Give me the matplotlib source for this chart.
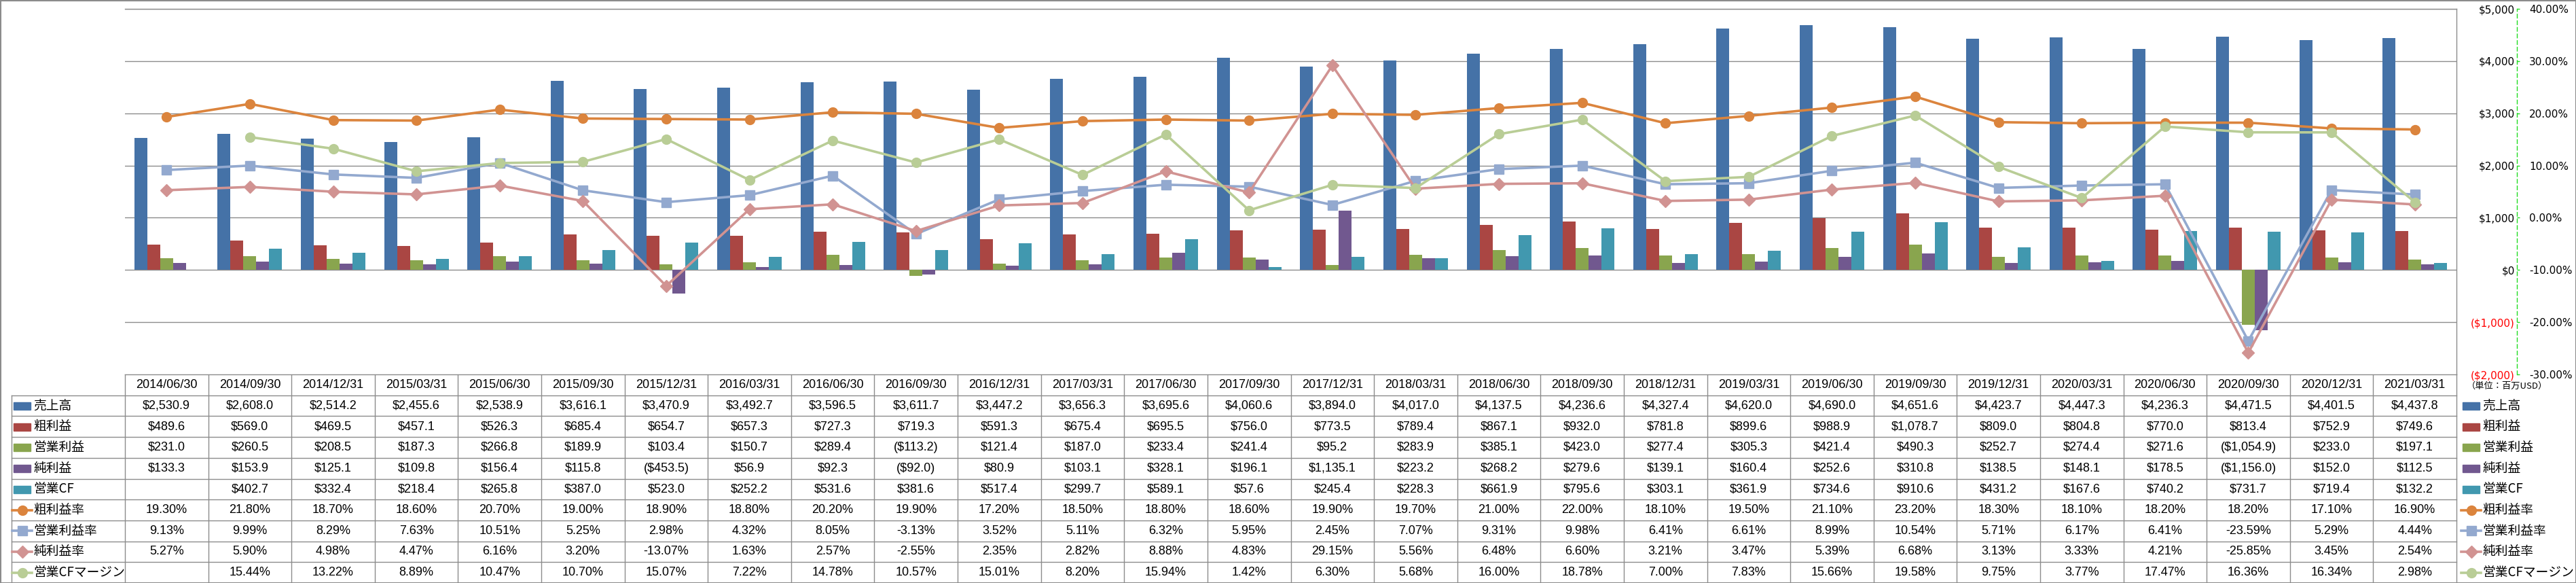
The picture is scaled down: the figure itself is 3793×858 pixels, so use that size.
import numpy as np
import matplotlib
matplotlib.use("Agg")
import matplotlib.pyplot as plt

# ---- data (百万USD / %) ----
dates = ["2014/06/30", "2014/09/30", "2014/12/31", "2015/03/31", "2015/06/30", "2015/09/30",
         "2015/12/31", "2016/03/31", "2016/06/30", "2016/09/30", "2016/12/31", "2017/03/31",
         "2017/06/30", "2017/09/30", "2017/12/31", "2018/03/31", "2018/06/30", "2018/09/30",
         "2018/12/31", "2019/03/31", "2019/06/30", "2019/09/30", "2019/12/31", "2020/03/31",
         "2020/06/30", "2020/09/30", "2020/12/31", "2021/03/31"]

revenue = [2530.9, 2608.0, 2514.2, 2455.6, 2538.9, 3616.1, 3470.9, 3492.7, 3596.5, 3611.7,
           3447.2, 3656.3, 3695.6, 4060.6, 3894.0, 4017.0, 4137.5, 4236.6, 4327.4, 4620.0,
           4690.0, 4651.6, 4423.7, 4447.3, 4236.3, 4471.5, 4401.5, 4437.8]
gross_profit = [489.6, 569.0, 469.5, 457.1, 526.3, 685.4, 654.7, 657.3, 727.3, 719.3,
                591.3, 675.4, 695.5, 756.0, 773.5, 789.4, 867.1, 932.0, 781.8, 899.6,
                988.9, 1078.7, 809.0, 804.8, 770.0, 813.4, 752.9, 749.6]
op_income = [231.0, 260.5, 208.5, 187.3, 266.8, 189.9, 103.4, 150.7, 289.4, -113.2,
             121.4, 187.0, 233.4, 241.4, 95.2, 283.9, 385.1, 423.0, 277.4, 305.3,
             421.4, 490.3, 252.7, 274.4, 271.6, -1054.9, 233.0, 197.1]
net_income = [133.3, 153.9, 125.1, 109.8, 156.4, 115.8, -453.5, 56.9, 92.3, -92.0,
              80.9, 103.1, 328.1, 196.1, 1135.1, 223.2, 268.2, 279.6, 139.1, 160.4,
              252.6, 310.8, 138.5, 148.1, 178.5, -1156.0, 152.0, 112.5]
op_cf = [None, 402.7, 332.4, 218.4, 265.8, 387.0, 523.0, 252.2, 531.6, 381.6,
         517.4, 299.7, 589.1, 57.6, 245.4, 228.3, 661.9, 795.6, 303.1, 361.9,
         734.6, 910.6, 431.2, 167.6, 740.2, 731.7, 719.4, 132.2]

gross_margin = [19.30, 21.80, 18.70, 18.60, 20.70, 19.00, 18.90, 18.80, 20.20, 19.90,
                17.20, 18.50, 18.80, 18.60, 19.90, 19.70, 21.00, 22.00, 18.10, 19.50,
                21.10, 23.20, 18.30, 18.10, 18.20, 18.20, 17.10, 16.90]
op_margin = [9.13, 9.99, 8.29, 7.63, 10.51, 5.25, 2.98, 4.32, 8.05, -3.13,
             3.52, 5.11, 6.32, 5.95, 2.45, 7.07, 9.31, 9.98, 6.41, 6.61,
             8.99, 10.54, 5.71, 6.17, 6.41, -23.59, 5.29, 4.44]
net_margin = [5.27, 5.90, 4.98, 4.47, 6.16, 3.20, -13.07, 1.63, 2.57, -2.55,
              2.35, 2.82, 8.88, 4.83, 29.15, 5.56, 6.48, 6.60, 3.21, 3.47,
              5.39, 6.68, 3.13, 3.33, 4.21, -25.85, 3.45, 2.54]
cf_margin = [None, 15.44, 13.22, 8.89, 10.47, 10.70, 15.07, 7.22, 14.78, 10.57,
             15.01, 8.20, 15.94, 1.42, 6.30, 5.68, 16.00, 18.78, 7.00, 7.83,
             15.66, 19.58, 9.75, 3.77, 17.47, 16.36, 16.34, 2.98]

usd_ticks = [-2000, -1000, 0, 1000, 2000, 3000, 4000, 5000]
pct_ticks = [-30, -20, -10, 0, 10, 20, 30, 40]
unit_label = "（単位：百万USD）"

bar_series = [("売上高", revenue, "#4572A7"),
              ("粗利益", gross_profit, "#AA4643"),
              ("営業利益", op_income, "#89A54E"),
              ("純利益", net_income, "#71588F"),
              ("営業CF", op_cf, "#4198AF")]
line_series = [("粗利益率", gross_margin, "#DB843D", "o", 10),
               ("営業利益率", op_margin, "#93A9CF", "s", 9.5),
               ("純利益率", net_margin, "#D19392", "D", 9),
               ("営業CFマージン", cf_margin, "#B9CD96", "o", 10)]

# ---- layout in pixels ----
W, H = 3793, 858
PL, PR, PT, PB = 184, 3617, 13, 551
LEG_L = 17
ROW_H = (H - PB) / 10.0
COL_W = (PR - PL) / len(dates)
GRID = "#8C8C8C"
GREEN_AXIS = "#22DD22"
TABLE_FONT = ["Liberation Sans", "DejaVu Sans"]
JP_FONT = ["Noto Sans CJK JP", "DejaVu Sans"]


def fmt_usd(v):
    if v is None:
        return ""
    return f"${v:,.1f}" if v >= 0 else f"(${-v:,.1f})"


def fmt_pct(v):
    if v is None:
        return ""
    return f"{v:.2f}%"


def arr(vals):
    return np.array([np.nan if v is None else v for v in vals], dtype=float)


fig = plt.figure(figsize=(W / 100, H / 100), dpi=100)

# overlay in pixel coords for the data table / legend
tb = fig.add_axes([0, 0, 1, 1])
tb.set_xlim(0, W)
tb.set_ylim(H, 0)
tb.axis("off")

ax = fig.add_axes([PL / W, 1 - PB / H, (PR - PL) / W, (PB - PT) / H])
x = np.arange(len(dates))
bw = 19 / COL_W
for k, (name, vals, col) in enumerate(bar_series):
    v = arr(vals)
    m = ~np.isnan(v)
    ax.bar(x[m] + (k - 2) * bw, v[m], width=bw, color=col, zorder=2)

ax2 = ax.twinx()
for name, vals, col, mk, ms in line_series:
    ax2.plot(x, arr(vals), color=col, lw=2.6, marker=mk, markersize=ms,
             markerfacecolor=col, markeredgecolor=col, zorder=3)

# $ axis (labels on the right, right-aligned)
ax.set_xlim(-0.5, len(dates) - 0.5)
ax.set_ylim(-2000, 5000)
ax.set_yticks(usd_ticks, [fmt_usd(t).replace(".0", "") for t in usd_ticks])
ax.yaxis.tick_right()
ax.tick_params(axis="y", length=0, pad=62, labelsize=11)
for tick, val in zip(ax.yaxis.get_major_ticks(), usd_ticks):
    tick.label2.set_ha("right")
    tick.label2.set_color("red" if val < 0 else "black")
ax.tick_params(axis="x", bottom=False, labelbottom=False)
ax.yaxis.grid(True, color=GRID, lw=1.0)
ax.set_axisbelow(True)
for s in ["left", "bottom"]:
    ax.spines[s].set_visible(False)
for s in ["top", "right"]:
    ax.spines[s].set_color(GRID)
    ax.spines[s].set_linewidth(1.0)

# % axis
ax2.set_ylim(-30, 40)
ax2.set_yticks(pct_ticks, [f"{t:.2f}%" for t in pct_ticks])
for tick, val in zip(ax2.yaxis.get_major_ticks(), pct_ticks):
    tick.label2.set_color("red" if val < 0 else "black")
ax2.spines["right"].set_position(("outward", 64))
ax2.spines["right"].set_color(GREEN_AXIS)
ax2.spines["right"].set_linestyle((0, (4, 3)))
ax2.spines["right"].set_linewidth(1.0)
for s in ["left", "top", "bottom"]:
    ax2.spines[s].set_visible(False)
ax2.tick_params(axis="y", direction="out", length=3, width=1, color=GREEN_AXIS,
                pad=10, labelsize=11)

# ---- data table ----
lc = dict(color=GRID, lw=1.0)
tb.plot([PL, PR], [PB, PB], **lc)
for r in range(1, 11):
    yy = PB + r * ROW_H
    tb.plot([LEG_L, PR], [yy, yy], **lc)
tb.plot([LEG_L, LEG_L], [PB + ROW_H, H], **lc)
for c in range(len(dates) + 1):
    xx = PL + c * COL_W
    tb.plot([xx, xx], [PB, H], **lc)

rows = [(s[1], fmt_usd) for s in bar_series] + [(s[1], fmt_pct) for s in line_series]
for c, d in enumerate(dates):
    cx = PL + (c + 0.5) * COL_W
    tb.text(cx, PB + ROW_H / 2, d, ha="center", va="center", fontsize=13, family=TABLE_FONT)
    for r, (vals, f) in enumerate(rows):
        cy = PB + (r + 1.5) * ROW_H
        tb.text(cx, cy, f(vals[c]), ha="center", va="center", fontsize=13, family=TABLE_FONT)

# legend keys (left column and right side)
tb.text(3632, PB + ROW_H / 2 + 2, unit_label, ha="left", va="center", fontsize=9.5, family=JP_FONT)
for sx, tx in [(20, 49), (3626, 3655)]:
    for r, (name, vals, col) in enumerate(bar_series):
        cy = PB + (r + 1.5) * ROW_H
        tb.add_patch(plt.Rectangle((sx, cy - 5), 25, 11, color=col))
        tb.text(tx, cy, name, ha="left", va="center", fontsize=13.5, family=JP_FONT)
    for r, (name, vals, col, mk, ms) in enumerate(line_series):
        cy = PB + (r + 6.5) * ROW_H
        tb.plot([sx - 2, sx + 27], [cy, cy], color=col, lw=2.6)
        tb.plot([sx + 12.5], [cy], marker=mk, markersize=ms, color=col)
        tb.text(tx, cy, name, ha="left", va="center", fontsize=13.5, family=JP_FONT)

# outer chart border
tb.plot([0.5, W - 0.5, W - 0.5, 0.5, 0.5], [0.5, 0.5, H - 0.5, H - 0.5, 0.5], color=GRID, lw=1.5)

fig.savefig("out.png", dpi=100)
